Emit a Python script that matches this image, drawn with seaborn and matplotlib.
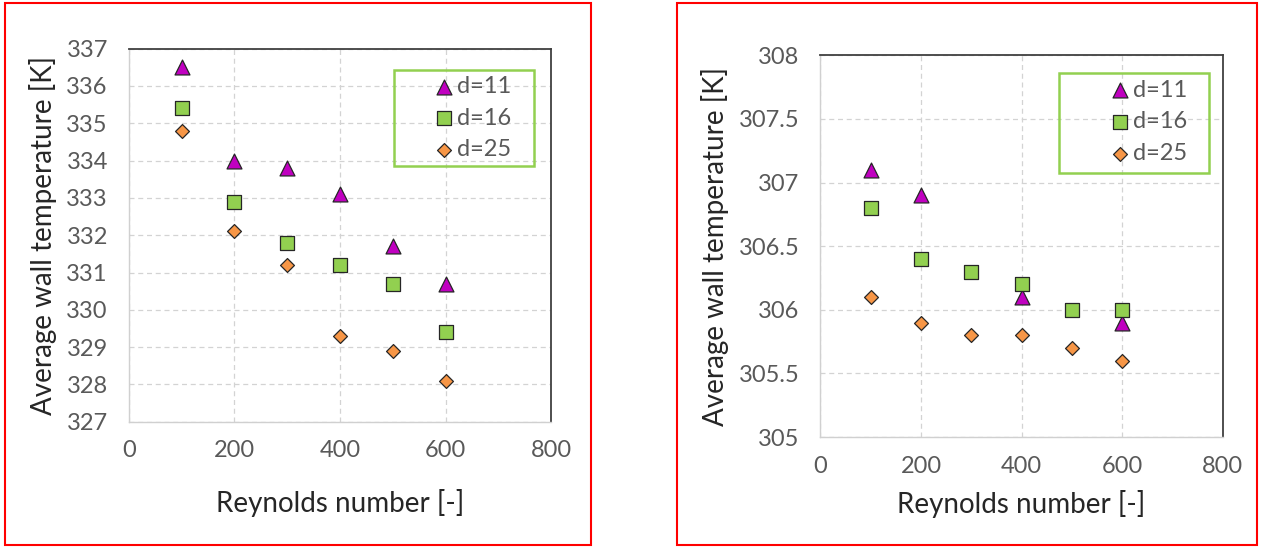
import numpy as np
import pandas as pd
import seaborn as sns
import matplotlib.pyplot as plt
from matplotlib.patches import Rectangle

reynolds = [100, 200, 300, 400, 500, 600]
series_names = ['d=11', 'd=16', 'd=25']

# left panel
left_d11 = [336.5, 334.0, 333.8, 333.1, 331.7, 330.7]
left_d16 = [335.4, 332.9, 331.8, 331.2, 330.7, 329.4]
left_d25 = [334.8, 332.1, 331.2, 329.3, 328.9, 328.1]

# right panel (d=11 at 300 and 500 is not visible)
right_d11 = [307.1, 306.9, np.nan, 306.1, np.nan, 305.9]
right_d16 = [306.8, 306.4, 306.3, 306.2, 306.0, 306.0]
right_d25 = [306.1, 305.9, 305.8, 305.8, 305.7, 305.6]

left_yticks = [327, 328, 329, 330, 331, 332, 333, 334, 335, 336, 337]
right_yticks = [305, 305.5, 306, 306.5, 307, 307.5, 308]
xticks = [0, 200, 400, 600, 800]

markers = {'d=11': '^', 'd=16': 's', 'd=25': 'D'}
colors = {'d=11': '#C000C0', 'd=16': '#92D050', 'd=25': '#F79646'}
sizes = {'d=11': 115, 'd=16': 95, 'd=25': 50}

sns.set_theme(style='white')
plt.rcParams['font.family'] = ['Lato', 'DejaVu Sans']

fig = plt.figure(figsize=(12.62, 5.47), dpi=100)


def make_df(d11, d16, d25):
    rows = []
    for name, vals in zip(series_names, [d11, d16, d25]):
        for x, y in zip(reynolds, vals):
            rows.append({'Re': x, 'T': y, 'series': name})
    return pd.DataFrame(rows).dropna()


def draw_panel(ax, df, yticks, ylim, box, xpad, xlabelpad):
    for name in series_names:
        sub = df[df['series'] == name]
        sns.scatterplot(data=sub, x='Re', y='T', ax=ax, marker=markers[name],
                        color=colors[name], s=sizes[name], edgecolor='#262626',
                        linewidth=0.9, label=name, zorder=3)
    ax.set_xlim(0, 800)
    ax.set_ylim(*ylim)
    ax.set_xticks(xticks)
    ax.set_yticks(yticks)
    ax.set_yticklabels([f'{t:g}' for t in yticks])
    ax.grid(True, color='#D3D3D3', linestyle=(0, (4, 3)), linewidth=0.9)
    ax.tick_params(axis='both', labelsize=17, labelcolor='#595959', length=0)
    ax.tick_params(axis='y', pad=15)
    ax.tick_params(axis='x', pad=xpad)
    ax.set_xlabel('Reynolds number [-]', fontsize=20, color='#262626',
                  labelpad=xlabelpad)
    ax.set_ylabel('Average wall temperature [K]', fontsize=20, color='#262626',
                  labelpad=7)
    for side in ['left', 'bottom']:
        ax.spines[side].set_color('#D0D0D0')
        ax.spines[side].set_linewidth(1.0)
    for side in ['top', 'right']:
        ax.spines[side].set_color('#404040')
        ax.spines[side].set_linewidth(1.3)
    # legend without its own frame, green box drawn separately
    x0, y0, w, h = box
    ax.legend(loc='upper right', bbox_to_anchor=(x0 + w - 0.03, y0 + h + 0.008),
              fontsize=17, frameon=False, labelspacing=0.45, handletextpad=0.05,
              borderaxespad=0, handlelength=1.0, labelcolor='#595959')
    ax.add_patch(Rectangle((x0, y0), w, h, transform=ax.transAxes, fill=False,
                           edgecolor='#92D050', linewidth=1.8, zorder=4))


ax1 = fig.add_axes([0.102, 0.229, 0.335, 0.682])
draw_panel(ax1, make_df(left_d11, left_d16, left_d25), left_yticks, (327, 337),
           (0.628, 0.686, 0.33, 0.258), 13, 20)

ax2 = fig.add_axes([0.650, 0.201, 0.319, 0.698])
draw_panel(ax2, make_df(right_d11, right_d16, right_d25), right_yticks, (305, 308),
           (0.594, 0.691, 0.371, 0.262), 14, 9)

# red frames around each panel
fig.patches.append(Rectangle((5 / 1262, 1 - 545 / 547), 586 / 1262, 542 / 547,
                             transform=fig.transFigure, fill=False,
                             edgecolor='#FF0000', linewidth=1.5))
fig.patches.append(Rectangle((677 / 1262, 1 - 545 / 547), 580 / 1262, 542 / 547,
                             transform=fig.transFigure, fill=False,
                             edgecolor='#FF0000', linewidth=1.5))

fig.savefig('out.png', dpi=100)
